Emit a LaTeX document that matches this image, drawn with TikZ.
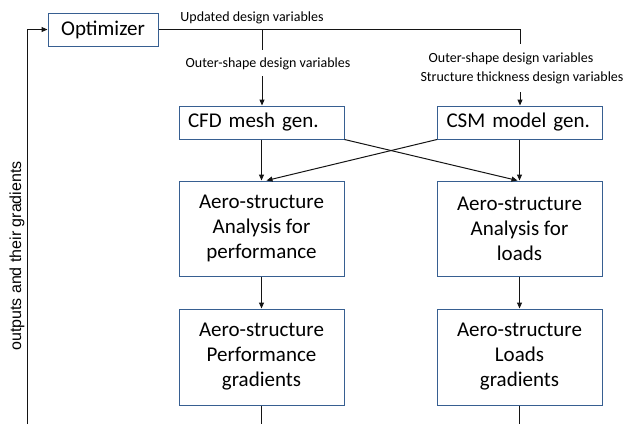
\documentclass[tikz,border=0pt]{standalone}
\usepackage{fontspec}
\setmainfont{Carlito}
\newfontfamily\arialfont{Liberation Sans}
\usetikzlibrary{arrows.meta,calc}
\definecolor{boxblue}{RGB}{55,95,145}
\definecolor{wire}{RGB}{20,20,20}
\begin{document}
\begin{tikzpicture}[x=1pt,y=-1pt,
  box/.style={draw=boxblue,line width=1pt,fill=white,inner sep=0pt},
  big/.style={font=\fontsize{21}{25}\selectfont},
  small/.style={font=\fontsize{14}{16}\selectfont,inner sep=1pt},
  flow/.style={draw=wire,line width=1pt},
  arr/.style={flow,-{Triangle[length=6pt,width=5pt]}},
  genbox/.style={box,big,minimum height=33pt,text width=147pt,align=left,inner xsep=9pt},
  tallbox/.style={box,big,minimum width=165pt,minimum height=95pt,align=center}]
\useasboundingbox (0,0) rectangle (628,424);

% optimizer
\node[box,big,minimum width=110pt,minimum height=33pt] (opt) at (103,29.5) {Optimizer};

% model generators
\node[genbox] (cfd) at (261.5,122.5) {CFD mesh gen.};
\node[genbox] (csm) at (520,122.5) {CSM model gen.};

% analyses
\node[tallbox] (an1) at (261.5,228.5) {Aero-structure\\Analysis for\\performance};
\node[tallbox] (an2) at (519.5,228.5) {Aero-structure\\Analysis for\\loads};

% gradients
\node[tallbox,minimum height=96pt] (gr1) at (261.5,357) {Aero-structure\\Performance\\gradients};
\node[tallbox,minimum height=96pt] (gr2) at (519.5,357) {Aero-structure\\Loads\\gradients};

% labels
\node[small] (lupd) at (252,18) {Updated design variables};
\node[small] (lout1) at (268,64) {Outer-shape design variables};
\node[small] (lout2) at (511,59) {Outer-shape design variables};
\node[small] (lthk) at (522,78) {Structure thickness design variables};
\node[font=\arialfont\fontsize{16}{18}\selectfont,rotate=90] (lret) at (17,256) {outputs and their gradients};

% distribution of design variables
\coordinate (split) at (262,29.5);
\coordinate (rtop) at (520,29.5);
\coordinate (rend) at (520,44);
\coordinate (lend) at (262,50);
\coordinate (lstart) at (262,76);
\coordinate (rstart) at (520,92);
\draw[flow] (opt.east) -- (rtop) -- (rend);
\draw[flow] (split) -- (lend);
\draw[arr] (lstart) -- (lstart |- cfd.north);
\draw[arr] (rstart) -- (rstart |- csm.north);

% generators to analyses
\draw[arr] (cfd.south -| an1.north) -- (an1.north);
\draw[arr] (csm.south -| an2.north) -- (an2.north);
\draw[arr] (cfd.south east) -- ([xshift=-2pt]an2.north);
\draw[arr] (csm.south west) -- ([xshift=5pt]an1.north);

% analyses to gradients
\draw[arr] (an1.south) -- (gr1.north);
\draw[arr] (an2.south) -- (gr2.north);

% outputs returned to the optimizer
\coordinate (b1) at (261.5,424);
\coordinate (b2) at (519.5,424);
\coordinate (bret) at (27,424);
\draw[flow] (gr1.south) -- (b1);
\draw[flow] (gr2.south) -- (b2);
\draw[arr] (bret) |- (opt.west);
\end{tikzpicture}
\end{document}
